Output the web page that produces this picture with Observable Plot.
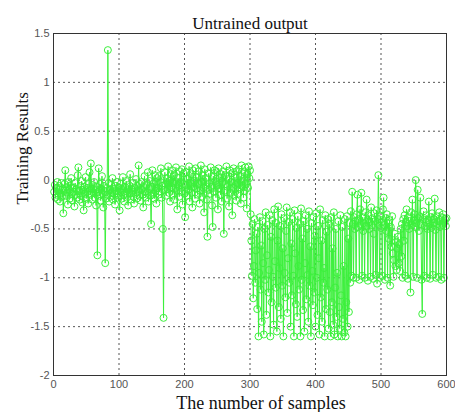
<!DOCTYPE html>
<html><head><meta charset="utf-8">
<script src="https://cdn.jsdelivr.net/npm/d3@7"></script>
<script src="https://cdn.jsdelivr.net/npm/@observablehq/plot@0.6"></script>
<style>body{margin:0;background:#fff}</style>
</head><body><div id="chart"></div>
<script>
const outputValues = [
-0.12,-0.05,-0.18,-0.08,-0.15,-0.02,-0.20,-0.10,-0.06,-0.22,-0.14,-0.03,-0.17,-0.09,-0.34,-0.11,-0.04,0.10,-0.16,-0.07,
-0.13,-0.25,-0.02,-0.10,-0.19,-0.06,0.02,-0.14,-0.21,-0.08,-0.12,-0.27,-0.03,-0.15,-0.09,-0.18,0.05,0.13,-0.11,-0.20,
-0.06,-0.16,-0.01,-0.23,-0.10,-0.31,-0.07,-0.14,0.03,-0.19,-0.08,-0.12,-0.24,-0.04,0.08,-0.15,0.17,-0.09,-0.20,-0.05,
-0.13,-0.02,-0.18,-0.10,-0.26,-0.07,-0.77,-0.12,0.12,-0.16,-0.04,-0.21,-0.09,0.04,-0.14,-0.28,-0.06,-0.11,-0.85,-0.19,
-0.08,-0.15,1.33,-0.03,-0.22,-0.10,-0.17,-0.05,-0.13,0.02,-0.20,-0.09,-0.14,-0.25,-0.06,-0.11,-0.02,-0.18,-0.08,-0.16,
-0.31,-0.12,-0.04,-0.19,-0.09,0.03,-0.15,-0.22,-0.07,-0.13,-0.01,-0.18,-0.10,-0.26,-0.05,-0.14,0.06,-0.20,-0.09,-0.12,
-0.03,-0.17,-0.24,-0.08,-0.14,0.01,-0.19,-0.06,-0.11,0.15,-0.16,-0.04,-0.21,-0.10,-0.02,-0.15,-0.28,-0.07,0.04,-0.12,
-0.18,-0.05,-0.13,0.08,-0.22,-0.09,-0.01,-0.16,-0.45,-0.07,0.10,-0.14,-0.03,-0.19,0.05,-0.11,-0.24,0.02,-0.08,-0.15,
0.04,-0.12,-0.02,0.12,-0.18,-0.06,-0.50,-1.41,-0.10,0.08,-0.04,-0.16,0.02,-0.09,0.14,-0.13,-0.01,-0.22,0.06,-0.07,
0.10,-0.15,-0.03,0.05,-0.20,-0.08,0.13,-0.11,-0.30,0.02,-0.06,-0.17,0.09,-0.02,-0.12,0.11,-0.25,-0.04,0.07,-0.14,
-0.38,-0.05,0.08,-0.16,0.01,-0.10,0.14,-0.22,-0.03,0.06,-0.13,-0.28,0.10,-0.07,-0.01,-0.19,0.12,-0.09,0.03,-0.15,
-0.04,0.09,-0.24,-0.11,0.15,-0.02,-0.17,0.05,-0.08,-0.33,0.11,-0.06,0.02,-0.20,-0.58,-0.10,0.07,-0.03,-0.14,0.13,
-0.07,-0.26,-0.48,0.04,-0.12,0.10,-0.01,-0.18,0.08,-0.05,-0.30,0.12,-0.09,0.02,-0.15,0.06,-0.22,-0.02,0.09,-0.55,
-0.11,0.05,-0.04,0.14,-0.19,-0.07,0.01,-0.27,0.10,-0.13,-0.02,0.07,-0.36,-0.08,0.12,-0.16,0.03,-0.05,-0.21,0.09,
-0.03,-0.14,0.11,-0.09,0.04,-0.24,0.15,-0.06,-0.01,-0.18,0.08,-0.11,0.13,-0.04,-0.29,0.06,-0.08,0.14,0.02,0.10,
-0.35,-0.62,-0.98,-0.45,-1.21,-0.88,-0.40,-1.05,-0.72,-0.55,-1.32,-0.48,-1.60,-0.95,-0.38,-1.12,-0.67,-1.45,-0.42,-0.85,
-1.58,-0.50,-1.02,-0.33,-1.38,-0.77,-0.46,-1.15,-0.92,-0.36,-1.60,-0.58,-1.25,-0.41,-0.99,-1.48,-0.30,-0.83,-1.10,-0.44,
-1.55,-0.62,-0.27,-1.30,-0.90,-0.47,-1.42,-0.35,-1.08,-0.70,-1.60,-0.39,-0.95,-1.20,-0.52,-0.28,-1.36,-0.80,-0.43,-1.05,
-0.33,-1.50,-0.65,-1.18,-0.40,-0.98,-1.60,-0.31,-0.75,-1.27,-0.49,-1.40,-0.37,-0.88,-1.12,-0.45,-1.60,-0.29,-1.02,-0.60,
-1.33,-0.42,-1.55,-0.85,-0.36,-1.22,-0.50,-0.97,-1.45,-0.32,-1.08,-0.68,-1.60,-0.44,-0.93,-1.28,-0.38,-1.15,-0.57,-1.50,
-0.34,-1.00,-1.38,-0.47,-0.80,-1.58,-0.30,-1.20,-0.62,-1.45,-0.41,-1.05,-0.90,-1.60,-0.36,-1.32,-0.53,-1.12,-0.40,-1.52,
-0.45,-1.35,-1.60,-0.38,-1.25,-0.70,-1.48,-0.33,-1.58,-1.10,-0.50,-1.40,-0.95,-1.60,-0.42,-1.30,-1.52,-0.36,-1.18,-1.60,
-0.48,-1.42,-0.88,-1.56,-0.40,-1.60,-1.25,-0.37,-1.50,-0.60,-1.35,-0.44,-1.05,-0.32,-0.98,-0.12,-0.45,-1.00,-0.38,-0.50,
-0.42,-1.00,-0.35,-0.15,-0.48,-0.40,-1.02,-0.30,-0.45,-0.13,-0.98,-0.38,-0.52,-0.44,-1.00,-0.33,-0.47,-0.20,-0.41,-1.03,
-0.36,-0.50,-0.43,-0.99,-0.28,-0.46,-0.39,-1.01,-0.55,-0.34,-0.42,-0.97,-0.31,-1.06,-0.45,0.05,-0.40,-1.00,-0.37,-0.49,
-0.43,-0.98,-0.30,-0.18,-0.46,-1.02,-0.39,-0.52,-0.35,-1.00,-0.44,-0.60,-0.41,-1.08,-0.48,-0.68,-0.37,-0.75,-0.99,-0.82,
-0.55,-0.88,-0.63,-0.92,-0.70,-0.58,-0.85,-0.66,-0.93,-0.50,-0.78,-0.45,-1.00,-0.40,-0.62,-0.36,-0.98,-0.43,-0.30,-0.47,
-1.01,-0.38,-0.50,-0.42,-1.15,-0.33,-0.46,-0.20,-0.99,-0.41,-0.35,-0.48,0.00,-0.44,-1.00,-0.10,-0.39,-0.52,-0.37,-0.18,
-0.45,-1.02,-1.37,-0.40,-0.32,-0.98,-0.47,-0.43,-0.36,-1.00,-0.50,-0.41,-0.22,-0.45,-1.01,-0.38,-0.49,-0.34,-0.97,-0.44,
-0.40,-0.19,-0.51,-1.00,-0.37,-0.45,-0.42,-0.99,-0.33,-0.48,-0.41,-1.02,-0.38,-0.46,-0.35,-1.00,-0.43,-0.40,-0.47,-0.39
];
const xTicks = [0, 100, 200, 300, 400, 500, 600];
const yTicks = [-2, -1.5, -1, -0.5, 0, 0.5, 1, 1.5];
const xGrid = [100, 200, 300, 400, 500];
const yGrid = [-1.5, -1, -0.5, 0, 0.5, 1];
const titleText = "Untrained output";
const xLabel = "The number of samples";
const yLabel = "Training Results";

const data = outputValues.map((v, i) => ({sample: i + 1, value: v}));
const green = "#3cf03c";
const serif = "'Liberation Serif', 'Times New Roman', serif";
const sans = "'Liberation Sans Narrow', 'Liberation Sans', Arial, sans-serif";

const chart = Plot.plot({
  width: 455, height: 412,
  marginLeft: 53, marginRight: 9, marginTop: 33, marginBottom: 37,
  style: {background: "#fff", overflow: "visible"},
  x: {domain: [0, 600]},
  y: {domain: [-2, 1.5]},
  marks: [
    Plot.gridX(xGrid, {stroke: "#555", strokeOpacity: 1, strokeDasharray: "2,3"}),
    Plot.gridY(yGrid, {stroke: "#555", strokeOpacity: 1, strokeDasharray: "2,3"}),
    Plot.line(data, {x: "sample", y: "value", stroke: green, strokeWidth: 1}),
    Plot.dot(data, {x: "sample", y: "value", r: 3.5, stroke: green, strokeWidth: 1, fill: "none"}),
    Plot.frame({stroke: "#333"}),
    Plot.axisX(xTicks, {tickSize: 0, tickPadding: 5, fontSize: 11, fontFamily: sans, fill: "#555", label: null}),
    Plot.axisY(yTicks, {tickSize: 0, tickPadding: 4, fontSize: 11, fontFamily: sans, fill: "#555", label: null, tickFormat: d => String(d)}),
    Plot.text([titleText], {frameAnchor: "top", lineAnchor: "bottom", dy: -5, fontSize: 17, fontFamily: serif, fill: "#111"}),
    Plot.text([xLabel], {frameAnchor: "bottom", lineAnchor: "bottom", dy: 33, dx: 11, fontSize: 18, fontFamily: serif, fill: "#111"}),
    Plot.text([yLabel], {frameAnchor: "left", lineAnchor: "middle", rotate: -90, dx: -31, fontSize: 17, fontFamily: serif, fill: "#111"})
  ]
});
document.getElementById("chart").appendChild(chart);
</script>
</body></html>
